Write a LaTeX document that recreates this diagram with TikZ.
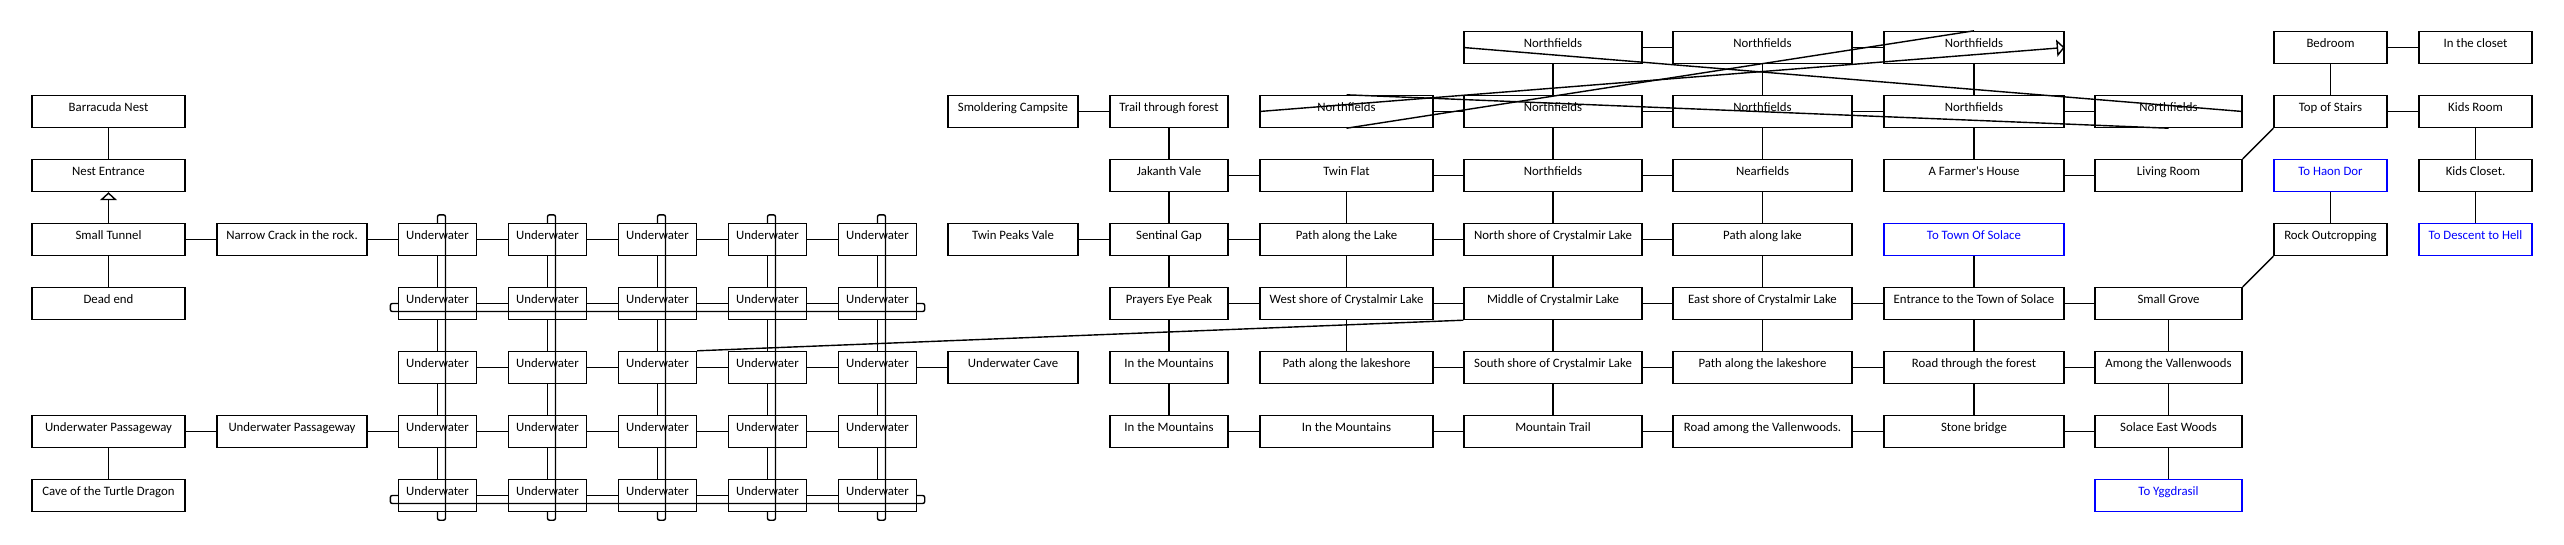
\documentclass[tikz,border=0pt]{standalone}
\usepackage{fontspec}
\setmainfont{Carlito}
\usetikzlibrary{arrows.meta,calc}
\begin{document}
\begin{tikzpicture}[x=1pt,y=-1pt,
  box/.style={draw,line width=1.4pt,rectangle,inner xsep=0pt,inner ysep=0pt,
    text height=16.4pt,text depth=15.6pt,font=\fontsize{12.8pt}{14pt}\selectfont},
  bluebox/.style={box,draw=blue,text=blue},
  conn/.style={line width=1.4pt},
  tri/.style={-{Triangle[open,length=8pt,width=17pt,line width=1.4pt]}},
  wLa/.style={minimum width=153pt},
  wLb/.style={minimum width=150pt},
  wU/.style={minimum width=78pt},
  wA/.style={minimum width=130pt},
  wB/.style={minimum width=118pt},
  wC/.style={minimum width=173pt},
  wD/.style={minimum width=178pt},
  wE/.style={minimum width=179pt},
  wF/.style={minimum width=180pt},
  wG/.style={minimum width=147pt},
  wH/.style={minimum width=113pt}]
\useasboundingbox (0,0) rectangle (2564,544);
% left columns
\node[box,wLa] (bn) at (108.5,111.5) {Barracuda Nest};
\node[box,wLa] (ne) at (108.5,175.5) {Nest Entrance};
\node[box,wLa] (st) at (108.5,239.5) {Small Tunnel};
\node[box,wLa] (de) at (108.5,303.5) {Dead end};
\node[box,wLa] (up1) at (108.5,431.5) {Underwater Passageway};
\node[box,wLa] (cave) at (108.5,495.5) {Cave of the Turtle Dragon};
\node[box,wLb] (nc) at (292,239.5) {Narrow Crack in the rock.};
\node[box,wLb] (up2) at (292,431.5) {Underwater Passageway};
% underwater grid
\foreach \c in {1,...,5}{\foreach \r in {3,...,7}{
  \node[box,wU] (u\c\r) at ({327.5+110*\c},{47.5+64*\r}) {Underwater};}}
\foreach \c in {1,...,5}{\foreach \r in {3,...,6}{
  \pgfmathtruncatemacro\rn{\r+1}\draw[conn] (u\c\r) -- (u\c\rn);}}
\foreach \c in {1,...,4}{\foreach \r in {3,...,7}{
  \pgfmathtruncatemacro\cn{\c+1}\draw[conn] (u\c\r) -- (u\cn\r);}}
\foreach \c in {1,...,5}{
  \draw[conn,rounded corners=2pt] (u\c3.north) -- ++(0,-8) -- ++(8,0) -- ($(u\c7.south)+(8,8)$) -- ++(-8,0) -- (u\c7.south);}
\foreach \r in {4,7}{
  \draw[conn,rounded corners=2pt] (u1\r.west) -- ++(-7.5,0) -- ++(0,8) -- ($(u5\r.east)+(7.5,8)$) -- ++(0,-8) -- (u5\r.east);}
% column A
\node[box,wA] (smold) at (1013,111.5) {Smoldering Campsite};
\node[box,wA] (tpv) at (1013,239.5) {Twin Peaks Vale};
\node[box,wA] (uwc) at (1013,367.5) {Underwater Cave};
% column B
\node[box,wB] (trail) at (1169,111.5) {Trail through forest};
\node[box,wB] (jak) at (1169,175.5) {Jakanth Vale};
\node[box,wB] (sg) at (1169,239.5) {Sentinal Gap};
\node[box,wB] (pep) at (1169,303.5) {Prayers Eye Peak};
\node[box,wB] (itm1) at (1169,367.5) {In the Mountains};
\node[box,wB] (itm2) at (1169,431.5) {In the Mountains};
% column C
\node[box,wC] (n1c) at (1346.5,111.5) {Northfields};
\node[box,wC] (tf) at (1346.5,175.5) {Twin Flat};
\node[box,wC] (pal) at (1346.5,239.5) {Path along the Lake};
\node[box,wC] (ws) at (1346.5,303.5) {West shore of Crystalmir Lake};
\node[box,wC] (pals1) at (1346.5,367.5) {Path along the lakeshore};
\node[box,wC] (itm3) at (1346.5,431.5) {In the Mountains};
% column D
\node[box,wD] (n0d) at (1553,47.5) {Northfields};
\node[box,wD] (n1d) at (1553,111.5) {Northfields};
\node[box,wD] (n2d) at (1553,175.5) {Northfields};
\node[box,wD] (ns) at (1553,239.5) {North shore of Crystalmir Lake};
\node[box,wD] (mid) at (1553,303.5) {Middle of Crystalmir Lake};
\node[box,wD] (ss) at (1553,367.5) {South shore of Crystalmir Lake};
\node[box,wD] (mt) at (1553,431.5) {Mountain Trail};
% column E
\node[box,wE] (n0e) at (1762.5,47.5) {Northfields};
\node[box,wE] (n1e) at (1762.5,111.5) {Northfields};
\node[box,wE] (nf) at (1762.5,175.5) {Nearfields};
\node[box,wE] (pl) at (1762.5,239.5) {Path along lake};
\node[box,wE] (es) at (1762.5,303.5) {East shore of Crystalmir Lake};
\node[box,wE] (pals2) at (1762.5,367.5) {Path along the lakeshore};
\node[box,wE] (ra) at (1762.5,431.5) {Road among the Vallenwoods.};
% column F
\node[box,wF] (n0f) at (1974,47.5) {Northfields};
\node[box,wF] (n1f) at (1974,111.5) {Northfields};
\node[box,wF] (fh) at (1974,175.5) {A Farmer\textquotesingle s House};
\node[bluebox,wF] (tts) at (1974,239.5) {To Town Of Solace};
\node[box,wF] (ent) at (1974,303.5) {Entrance to the Town of Solace};
\node[box,wF] (rtf) at (1974,367.5) {Road through the forest};
\node[box,wF] (sb) at (1974,431.5) {Stone bridge};
% column G
\node[box,wG] (n1g) at (2168.5,111.5) {Northfields};
\node[box,wG] (lr) at (2168.5,175.5) {Living Room};
\node[box,wG] (sgv) at (2168.5,303.5) {Small Grove};
\node[box,wG] (atv) at (2168.5,367.5) {Among the Vallenwoods};
\node[box,wG] (sew) at (2168.5,431.5) {Solace East Woods};
\node[bluebox,wG] (ty) at (2168.5,495.5) {To Yggdrasil};
% column H, I
\node[box,wH] (bed) at (2330.5,47.5) {Bedroom};
\node[box,wH] (tos) at (2330.5,111.5) {Top of Stairs};
\node[bluebox,wH] (thd) at (2330.5,175.5) {To Haon Dor};
\node[box,wH] (ro) at (2330.5,239.5) {Rock Outcropping};
\node[box,wH] (itc) at (2475.5,47.5) {In the closet};
\node[box,wH] (kr) at (2475.5,111.5) {Kids Room};
\node[box,wH] (kc) at (2475.5,175.5) {Kids Closet.};
\node[bluebox,wH] (tdh) at (2475.5,239.5) {To Descent to Hell};
% connectors left
\draw[conn] (bn) -- (ne);
\draw[conn,tri] (st) -- (ne);
\draw[conn] (st) -- (de);
\draw[conn] (st) -- (nc);
\draw[conn] (nc) -- (u13);
\draw[conn] (up1) -- (up2);
\draw[conn] (up1) -- (cave);
\draw[conn] (up2) -- (u16);
\draw[conn] (u55) -- (uwc);
\draw[conn] (u35.north east) -- (mid.south west);
% connectors middle
\draw[conn] (smold) -- (trail);
\draw[conn] (trail) -- (jak);
\draw[conn] (jak) -- (sg);
\draw[conn] (sg) -- (pep);
\draw[conn] (pep) -- (itm1);
\draw[conn] (itm1) -- (itm2);
\draw[conn] (jak) -- (tf);
\draw[conn] (tf) -- (n2d);
\draw[conn] (n2d) -- (nf);
\draw[conn] (fh) -- (lr);
\draw[conn] (tf) -- (pal);
\draw[conn] (tpv) -- (sg);
\draw[conn] (sg) -- (pal);
\draw[conn] (pal) -- (ns);
\draw[conn] (ns) -- (pl);
\draw[conn] (pal) -- (ws);
\draw[conn] (n2d) -- (ns);
\draw[conn] (ns) -- (mid);
\draw[conn] (nf) -- (pl);
\draw[conn] (pl) -- (es);
\draw[conn] (tts) -- (ent);
\draw[conn] (pep) -- (ws);
\draw[conn] (ws) -- (mid);
\draw[conn] (mid) -- (es);
\draw[conn] (es) -- (ent);
\draw[conn] (ent) -- (sgv);
\draw[conn] (ws) -- (pals1);
\draw[conn] (mid) -- (ss);
\draw[conn] (es) -- (pals2);
\draw[conn] (ent) -- (rtf);
\draw[conn] (sgv) -- (atv);
\draw[conn] (pals1) -- (ss);
\draw[conn] (ss) -- (pals2);
\draw[conn] (pals2) -- (rtf);
\draw[conn] (rtf) -- (atv);
\draw[conn] (ss) -- (mt);
\draw[conn] (rtf) -- (sb);
\draw[conn] (atv) -- (sew);
\draw[conn] (itm2) -- (itm3);
\draw[conn] (itm3) -- (mt);
\draw[conn] (mt) -- (ra);
\draw[conn] (ra) -- (sb);
\draw[conn] (sb) -- (sew);
\draw[conn] (sew) -- (ty);
% Northfields
\draw[conn] (n0d) -- (n0e);
\draw[conn] (n0e) -- (n0f);
\draw[conn] (n0d) -- (n1d);
\draw[conn] (n0e) -- (n1e);
\draw[conn] (n0f) -- (n1f);
\draw[conn] (n1c) -- (n1d);
\draw[conn] (n1d) -- (n1e);
\draw[conn] (n1e) -- (n1f);
\draw[conn] (n1f) -- (n1g);
\draw[conn] (n1d) -- (n2d);
\draw[conn] (n1e) -- (nf);
\draw[conn] (n1f) -- (fh);
\draw[conn] (n0d.west) -- (n1g.east);
\draw[conn,tri] (n1c.west) -- (n0f.east);
\draw[conn] (n1c.south) -- (n0f.north);
\draw[conn] (n1c.north) -- (n1g.south);
% right
\draw[conn] (lr.north east) -- (tos.south west);
\draw[conn] (bed) -- (itc);
\draw[conn] (bed) -- (tos);
\draw[conn] (tos) -- (kr);
\draw[conn] (kr) -- (kc);
\draw[conn] (kc) -- (tdh);
\draw[conn] (thd) -- (ro);
\draw[conn] (sgv.north east) -- (ro.south west);
\end{tikzpicture}
\end{document}
